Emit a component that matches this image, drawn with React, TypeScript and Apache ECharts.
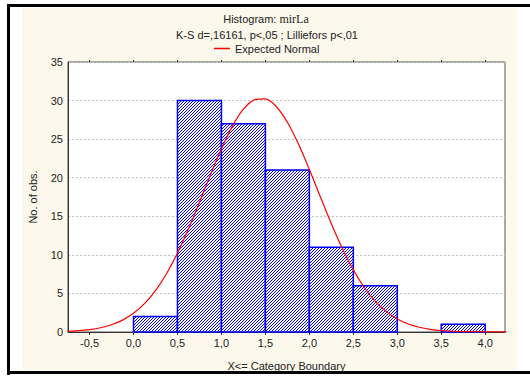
import React, { useEffect, useRef } from "react";
import * as echarts from "echarts";

// Histogram bins (lower boundary, width 0.5) and observed counts
const binStart = [0.0, 0.5, 1.0, 1.5, 2.0, 2.5, 3.0, 3.5];
const binWidth = 0.5;
const binCounts = [2, 30, 27, 21, 11, 6, 0, 1];

// Expected normal curve
const curveX = [
  -0.75, -0.625, -0.5, -0.375, -0.25, -0.125, 0.0, 0.125, 0.25, 0.375, 0.5, 0.625, 0.75, 0.875,
  1.0, 1.125, 1.25, 1.375, 1.5, 1.625, 1.75, 1.875, 2.0, 2.125, 2.25, 2.375, 2.5, 2.625, 2.75,
  2.875, 3.0, 3.125, 3.25, 3.375, 3.5, 3.625, 3.75, 3.875, 4.0, 4.125, 4.25,
];
const curveY = [
  0.09, 0.17, 0.31, 0.55, 0.94, 1.54, 2.42, 3.67, 5.37, 7.56, 10.24, 13.37, 16.81, 20.37,
  23.75, 26.69, 28.88, 30.09, 30.21, 29.2, 27.19, 24.39, 21.06, 17.52, 14.04, 10.84, 8.05, 5.77, 3.97,
  2.64, 1.69, 1.04, 0.62, 0.35, 0.19, 0.1, 0.05, 0.03, 0.01, 0.01, 0.0,
];

// Tick labels
const xTicks = [-0.5, 0.0, 0.5, 1.0, 1.5, 2.0, 2.5, 3.0, 3.5, 4.0];

const FONT = "'Liberation Sans', Arial, sans-serif";
const TXT = "#222222";

function makePattern(): any {
  const n = 6;
  const c = document.createElement("canvas");
  c.width = n;
  c.height = n;
  const ctx = c.getContext("2d")!;
  ctx.fillStyle = "#ffffff";
  ctx.fillRect(0, 0, n, n);
  ctx.fillStyle = "#0000ff";
  for (let y = 0; y < n; y++) {
    for (let x = 0; x < n; x++) {
      if ((x + y) % 3 === 2) ctx.fillRect(x, y, 1, 1);
    }
  }
  return { image: c, repeat: "repeat" };
}

export default function App() {
  const ref = useRef<HTMLDivElement>(null);
  useEffect(() => {
    if (!ref.current) return;
    const chart = echarts.init(ref.current, null, { renderer: "svg" });
    const pattern = makePattern();
    const barData = binStart.map((s, i) => [s, s + binWidth, binCounts[i]]);
    const fmt = (v: number) => v.toFixed(1).replace(".", ",");
    chart.setOption({
      animation: false,
      backgroundColor: "#ffffff",
      textStyle: { fontFamily: FONT },
      graphic: [
        { type: "rect", z: -10, shape: { x: 22, y: 8, width: 495, height: 362 }, style: { fill: "#fdf8ec" } },
        { type: "rect", z: 10, shape: { x: 7, y: 4, width: 523, height: 3 }, style: { fill: "#000" } },
        { type: "rect", z: 10, shape: { x: 7, y: 4, width: 3, height: 371 }, style: { fill: "#000" } },
        { type: "rect", z: 10, shape: { x: 7, y: 371, width: 523, height: 3 }, style: { fill: "#000" } },
        {
          type: "text",
          x: 266,
          y: 19,
          style: {
            text: "{a|Histogram: }{b|mirLa}",
            align: "center",
            verticalAlign: "middle",
            rich: {
              a: { fontFamily: FONT, fontSize: 11, fill: TXT },
              b: { fontFamily: "'Liberation Serif', 'Times New Roman', serif", fontSize: 12, fill: TXT },
            },
          },
        },
        {
          type: "text",
          x: 267,
          y: 35,
          style: {
            text: "K-S d=,16161, p<,05 ; Lilliefors p<,01",
            align: "center",
            verticalAlign: "middle",
            fontFamily: FONT,
            fontSize: 11,
            fill: TXT,
          },
        },
      ],
      legend: {
        data: [{ name: "Expected Normal", icon: "rect" }],
        left: 214,
        top: 43,
        itemWidth: 16,
        itemHeight: 1.5,
        padding: 0,
        textStyle: { fontFamily: FONT, fontSize: 11, color: TXT },
      },
      grid: {
        left: 68,
        top: 62,
        right: 25,
        bottom: 43,
        show: true,
        backgroundColor: "#ffffff",
        borderColor: "#555555",
        borderWidth: 1,
      },
      xAxis: [
        {
          type: "value",
          min: -0.745,
          max: 4.225,
          name: "X<= Category Boundary",
          nameLocation: "middle",
          nameGap: 28,
          nameTextStyle: { fontFamily: FONT, fontSize: 11, color: TXT },
          axisLine: { show: true, onZero: false, lineStyle: { color: "#333", width: 1 } },
          axisTick: { show: true, length: 3, customValues: xTicks, lineStyle: { color: "#333" } },
          axisLabel: {
            customValues: xTicks,
            formatter: (v: number) => fmt(v),
            fontFamily: FONT,
            fontSize: 11,
            color: TXT,
            margin: 5,
          },
          splitLine: { show: false },
        },
        {
          type: "value",
          position: "top",
          min: -0.745,
          max: 4.225,
          axisLine: { show: false, onZero: false },
          axisTick: { show: true, length: 2, customValues: xTicks, lineStyle: { color: "#333" } },
          axisLabel: { show: false },
          splitLine: { show: false },
        },
      ],
      yAxis: {
        type: "value",
        min: 0,
        max: 35,
        interval: 5,
        name: "No. of obs.",
        nameLocation: "middle",
        nameGap: 30,
        nameTextStyle: { fontFamily: FONT, fontSize: 11, color: TXT },
        axisLine: { show: true, onZero: false, lineStyle: { color: "#333", width: 1 } },
        axisTick: { show: false },
        axisLabel: { fontFamily: FONT, fontSize: 11, color: TXT, margin: 5 },
        splitLine: { show: true, lineStyle: { color: "#c4c4c4", type: [2, 2], width: 1 } },
      },
      series: [
        {
          type: "custom",
          name: "Histogram",
          xAxisIndex: 0,
          encode: { x: [0, 1], y: 2 },
          data: barData,
          z: 2,
          renderItem: (params: any, api: any) => {
            const v = api.value(2);
            if (!v) return null;
            const p0 = api.coord([api.value(0), v]);
            const p1 = api.coord([api.value(1), 0]);
            return {
              type: "rect",
              shape: { x: p0[0], y: p0[1], width: p1[0] - p0[0], height: p1[1] - p0[1] },
              style: { fill: pattern, stroke: "#0000ff", lineWidth: 1.5 },
            };
          },
        },
        {
          type: "line",
          name: "Expected Normal",
          xAxisIndex: 0,
          data: curveX.map((x, i) => [x, curveY[i]]),
          smooth: 0.3,
          showSymbol: false,
          symbol: "none",
          z: 5,
          color: "#ff0000",
          lineStyle: { color: "#ff0000", width: 1.2 },
        },
      ],
    });
    return () => chart.dispose();
  }, []);
  return (
    <div
      ref={ref}
      style={{ position: "fixed", left: 0, top: 0, width: 530, height: 376 }}
    />
  );
}
